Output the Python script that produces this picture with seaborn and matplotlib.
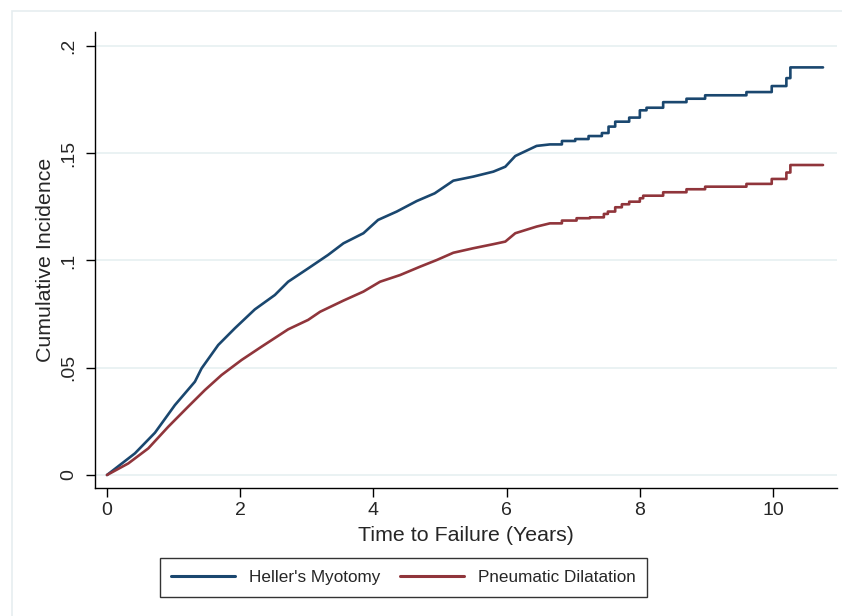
import matplotlib
matplotlib.use('Agg')
import matplotlib.pyplot as plt
import seaborn as sns
import pandas as pd
from matplotlib.patches import Rectangle

# --- data (smooth early part, then step jumps) ---
heller_t = [0, 0.42, 0.72, 1.02, 1.32, 1.42, 1.67, 1.92, 2.22, 2.52, 2.72, 3.02,
            3.32, 3.55, 3.85, 4.07, 4.35, 4.65, 4.92, 5.2, 5.5, 5.8, 5.98, 6.13,
            6.45, 6.65]
heller_v = [0, 0.0101, 0.0197, 0.0326, 0.0435, 0.0497, 0.0606, 0.0684, 0.0772,
            0.0839, 0.0901, 0.0963, 0.1026, 0.108, 0.1127, 0.1189, 0.1228, 0.1277,
            0.1313, 0.1372, 0.1391, 0.1414, 0.1437, 0.1487, 0.1534, 0.1541]
heller_step_t = [6.83, 7.03, 7.23, 7.43, 7.53, 7.63, 7.84, 8.0, 8.1, 8.35, 8.7,
                 8.98, 9.6, 9.98, 10.2, 10.26]
heller_step_v = [0.1557, 0.1566, 0.158, 0.1594, 0.1624, 0.1647, 0.1666, 0.170,
                 0.1712, 0.1738, 0.1754, 0.177, 0.1785, 0.1813, 0.185, 0.190]

pneu_t = [0, 0.32, 0.62, 0.92, 1.22, 1.47, 1.72, 2.02, 2.32, 2.72, 3.02, 3.2,
          3.55, 3.85, 4.1, 4.4, 4.7, 4.95, 5.2, 5.5, 5.8, 5.98, 6.13, 6.45, 6.65]
pneu_v = [0, 0.0054, 0.0124, 0.0225, 0.0319, 0.0396, 0.0466, 0.0536, 0.0598,
          0.0679, 0.0723, 0.0761, 0.0813, 0.0855, 0.0901, 0.0932, 0.0971, 0.1002,
          0.1036, 0.1057, 0.1076, 0.1088, 0.1127, 0.1158, 0.1173]
pneu_step_t = [6.83, 7.05, 7.25, 7.46, 7.52, 7.63, 7.73, 7.84, 8.0, 8.05, 8.35,
               8.7, 8.98, 9.6, 9.98, 10.2, 10.26]
pneu_step_v = [0.1186, 0.1197, 0.1201, 0.1217, 0.1228, 0.1248, 0.1262, 0.1274,
               0.129, 0.1302, 0.1318, 0.1332, 0.1344, 0.1357, 0.138, 0.141, 0.1445]

t_end = 10.75

labels = ["Heller's Myotomy", "Pneumatic Dilatation"]
colors = ['#1a476f', '#90353b']

x_ticks = [0, 2, 4, 6, 8, 10]
y_ticks = [0, 0.05, 0.1, 0.15, 0.2]
y_ticklabels = ['0', '.05', '.1', '.15', '.2']


def build_curve(t, v, step_t, step_v, name):
    xs, ys = list(t), list(v)
    prev = v[-1]
    for st, sv in zip(step_t, step_v):
        xs += [st, st]
        ys += [prev, sv]
        prev = sv
    xs.append(t_end)
    ys.append(prev)
    return pd.DataFrame({'time': xs, 'ci': ys, 'group': name})


df = pd.concat([
    build_curve(heller_t, heller_v, heller_step_t, heller_step_v, labels[0]),
    build_curve(pneu_t, pneu_v, pneu_step_t, pneu_step_v, labels[1]),
], ignore_index=True)

sns.set_style('white')
plt.rcParams['font.family'] = ['Liberation Sans', 'DejaVu Sans']

fig = plt.figure(figsize=(8.42, 6.16), dpi=100)
# faint outer frame like the Stata graph region
fig.patches.append(Rectangle((12 / 842, -0.1), 1.2, 1 - 11 / 616 + 0.1,
                             transform=fig.transFigure, fill=False,
                             edgecolor='#e6edf0', linewidth=1.2))

ax = fig.add_axes([95 / 842, 1 - 488 / 616, (837 - 95) / 842, (488 - 32) / 616])

for y in y_ticks:
    ax.axhline(y, color='#eaf2f3', linewidth=1.4, zorder=0)

for name, col in zip(labels, colors):
    sub = df[df['group'] == name]
    sns.lineplot(data=sub, x='time', y='ci', ax=ax, color=col, linewidth=1.9,
                 estimator=None, sort=False, label=name)

ax.set_xlim(-0.18, 10.96)
ax.set_ylim(-0.00606, 0.2065)
ax.set_xticks(x_ticks)
ax.set_xticklabels([str(x) for x in x_ticks], fontsize=14)
ax.set_yticks(y_ticks)
ax.set_yticklabels(y_ticklabels, fontsize=14, rotation=90, va='center')
ax.tick_params(axis='both', direction='out', length=6.5, width=1, color='black',
               left=True, bottom=True)
ax.tick_params(axis='y', pad=6)
ax.tick_params(axis='x', pad=3.5)

for side in ['top', 'right']:
    ax.spines[side].set_visible(False)
for side in ['left', 'bottom']:
    ax.spines[side].set_color('black')
    ax.spines[side].set_linewidth(1)

ax.set_xlabel('Time to Failure (Years)', fontsize=15.4, labelpad=5)
ax.set_ylabel('Cumulative Incidence', fontsize=15.4, labelpad=4)

handles, lbls = ax.get_legend_handles_labels()
ax.get_legend().remove()
leg = fig.legend(handles, lbls, loc='center',
                 bbox_to_anchor=(403.5 / 842, 1 - 577.5 / 616), ncol=2,
                 fontsize=12.3, frameon=True, fancybox=False, edgecolor='black',
                 handlelength=3.75, handletextpad=0.8, columnspacing=1.15,
                 borderpad=0.68)
leg.get_frame().set_linewidth(1)
for line in leg.get_lines():
    line.set_linewidth(2.2)

fig.savefig('out.png', dpi=100)
plt.close(fig)
